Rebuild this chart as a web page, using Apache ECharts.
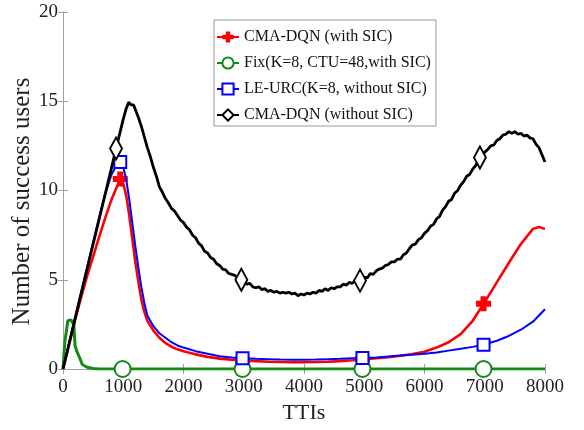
<!DOCTYPE html>
<html>
<head>
<meta charset="utf-8">
<script src="https://cdn.jsdelivr.net/npm/echarts@6/dist/echarts.min.js"></script>
<style>
html,body{margin:0;padding:0;background:#fff;}
#chart{width:584px;height:430px;}
</style>
</head>
<body>
<div id="chart"></div>
<script>
// ---- data (TTI, number of success users) ----
var seriesNames = ['CMA-DQN (with SIC)', 'Fix(K=8, CTU=48,with SIC)', 'LE-URC(K=8, without SIC)', 'CMA-DQN (without SIC)'];
var xTicks = [0, 1000, 2000, 3000, 4000, 5000, 6000, 7000, 8000];
var yTicks = [0, 5, 10, 15, 20];

var cmaSic = [[0,0],[100,1.35],[200,2.75],[300,4.0],[400,5.2],[500,6.3],[600,7.4],[700,8.45],[800,9.45],[900,10.25],[950,10.65],[1000,10.4],[1050,9.7],[1100,8.6],[1150,7.3],[1200,6.0],[1250,4.9],[1300,3.9],[1350,3.2],[1400,2.7],[1500,2.15],[1600,1.75],[1700,1.45],[1800,1.25],[1900,1.1],[2000,1.0],[2200,0.82],[2400,0.68],[2600,0.58],[2800,0.52],[2980,0.48],[3200,0.44],[3400,0.41],[3600,0.39],[3800,0.38],[4000,0.38],[4200,0.39],[4400,0.41],[4600,0.44],[4800,0.49],[4970,0.54],[5200,0.6],[5400,0.66],[5600,0.74],[5800,0.84],[6000,0.97],[6200,1.2],[6400,1.5],[6600,1.95],[6800,2.7],[6980,3.65],[7200,4.85],[7400,5.95],[7600,7.0],[7800,7.85],[7900,7.95],[8000,7.85]];

var fixSic = [[0,0],[30,1.5],[60,1.6],[80,2.7],[130,2.75],[180,2.5],[200,1.3],[240,0.9],[280,0.6],[320,0.25],[400,0.1],[500,0.03],[600,0],[990,0],[2000,0],[2980,0],[4000,0],[4970,0],[6000,0],[6980,0],[8000,0]];

var leUrc = [[0,0],[100,1.45],[200,2.9],[300,4.3],[400,5.7],[500,7.1],[600,8.5],[700,9.8],[800,10.85],[900,11.5],[950,11.6],[1000,11.3],[1050,10.6],[1100,9.5],[1150,8.2],[1200,6.9],[1250,5.7],[1300,4.6],[1350,3.7],[1400,3.0],[1500,2.4],[1600,2.0],[1700,1.75],[1800,1.5],[1900,1.32],[2000,1.2],[2200,1.0],[2400,0.85],[2600,0.72],[2800,0.65],[2980,0.6],[3200,0.57],[3400,0.55],[3600,0.53],[3800,0.52],[4000,0.52],[4200,0.53],[4400,0.55],[4600,0.57],[4800,0.6],[4970,0.62],[5200,0.65],[5400,0.7],[5600,0.75],[5800,0.8],[6000,0.85],[6200,0.93],[6400,1.03],[6600,1.13],[6800,1.24],[6980,1.36],[7200,1.58],[7400,1.85],[7600,2.2],[7800,2.65],[8000,3.35]];

var cmaNoSic = [[0,0],[100,1.4],[200,2.8],[300,4.2],[400,5.6],[500,7.0],[600,8.4],[700,9.8],[800,11.2],[880,12.35],[950,13.3],[1000,14.0],[1050,14.6],[1090,14.95],[1130,14.8],[1170,14.8],[1210,14.45],[1250,14.1],[1300,13.6],[1350,13.0],[1400,12.4],[1450,11.9],[1500,11.3],[1550,10.8],[1600,10.2],[1650,9.9],[1700,9.55],[1750,9.3],[1800,9.0],[1850,8.85],[1900,8.6],[1950,8.35],[2000,8.2],[2050,7.95],[2100,7.8],[2150,7.5],[2200,7.35],[2250,7.05],[2300,6.9],[2350,6.6],[2400,6.5],[2450,6.25],[2500,6.15],[2550,5.9],[2600,5.8],[2650,5.6],[2700,5.55],[2750,5.35],[2800,5.3],[2850,5.25],[2900,5.1],[2960,5.0],[3000,4.9],[3050,4.75],[3100,4.8],[3150,4.6],[3200,4.55],[3250,4.6],[3300,4.45],[3350,4.5],[3400,4.35],[3450,4.4],[3500,4.3],[3550,4.35],[3600,4.25],[3650,4.3],[3700,4.25],[3750,4.3],[3800,4.2],[3850,4.25],[3900,4.1],[3950,4.2],[4000,4.15],[4050,4.25],[4100,4.2],[4150,4.3],[4200,4.25],[4250,4.4],[4300,4.35],[4350,4.5],[4400,4.4],[4450,4.55],[4500,4.5],[4550,4.6],[4600,4.6],[4650,4.75],[4700,4.7],[4750,4.85],[4800,4.8],[4850,4.95],[4930,4.95],[5000,5.15],[5050,5.1],[5100,5.35],[5150,5.3],[5200,5.5],[5250,5.6],[5300,5.65],[5350,5.8],[5400,5.85],[5450,6.0],[5500,6.0],[5550,6.15],[5600,6.15],[5650,6.4],[5700,6.5],[5750,6.75],[5800,6.95],[5850,7.0],[5900,7.25],[5950,7.35],[6000,7.6],[6050,7.75],[6100,8.0],[6150,8.1],[6200,8.4],[6250,8.55],[6300,8.9],[6350,9.1],[6400,9.4],[6450,9.5],[6500,9.85],[6550,10.0],[6600,10.3],[6650,10.5],[6700,10.8],[6750,10.9],[6800,11.2],[6850,11.4],[6920,11.85],[6950,11.8],[7000,12.15],[7050,12.3],[7100,12.5],[7150,12.55],[7200,12.8],[7250,12.9],[7300,13.1],[7350,13.15],[7400,13.3],[7450,13.2],[7500,13.3],[7550,13.15],[7600,13.2],[7650,13.05],[7700,13.1],[7750,12.95],[7800,12.9],[7850,12.6],[7900,12.4],[7950,12.0],[8000,11.6]];

var markerRB = [950, 2980, 4970, 6980];
var markerFix = [990, 2980, 4970, 6980];
var markerBlack = [880, 2960, 4930, 6920];

// ---- chart ----
var FONT = '"Liberation Serif", "DejaVu Serif", serif';
function withMarkers(arr, marks) {
  return arr.map(function (p) {
    if (marks.indexOf(p[0]) >= 0) return { value: p };
    return { value: p, symbol: 'none' };
  });
}
var plusPath = 'path://M3,0H7V3H10V7H7V10H3V7H0V3H3Z';

var chart = echarts.init(document.getElementById('chart'), null, { renderer: 'canvas' });
var axisColor = '#a0a0a0';
var option = {
  animation: false,
  backgroundColor: '#fff',
  grid: { left: 63, right: 39, top: 12, bottom: 61, containLabel: false, outerBoundsMode: 'none' },
  legend: {
    left: 214, top: 20,
    orient: 'vertical',
    itemWidth: 22, itemHeight: 14, itemGap: 10,
    padding: [9, 5, 3, 2],
    borderColor: '#999', borderWidth: 1, backgroundColor: '#fff',
    textStyle: { fontFamily: FONT, fontSize: 16, color: '#111' },
    data: seriesNames
  },
  xAxis: [{
    type: 'value', min: 0, max: 8000, interval: 1000,
    name: 'TTIs', nameLocation: 'middle', nameGap: 33, nameMoveOverlap: false,
    nameTextStyle: { fontFamily: FONT, fontSize: 22, color: '#222' },
    axisLine: { show: true, lineStyle: { color: axisColor } },
    axisTick: { show: true, inside: true, length: 5, lineStyle: { color: axisColor } },
    axisLabel: { fontFamily: FONT, fontSize: 19, color: '#222', margin: 9,
      formatter: function (v) { return xTicks.indexOf(v) >= 0 ? String(v) : ''; } },
    splitLine: { show: false }
  }, {
    type: 'value', min: 0, max: 8000, interval: 1000, position: 'top',
    axisLine: { show: true, lineStyle: { color: axisColor } },
    axisTick: { show: true, inside: true, length: 5, lineStyle: { color: axisColor } },
    axisLabel: { show: false }, splitLine: { show: false }
  }],
  yAxis: [{
    type: 'value', min: 0, max: 20, interval: 5,
    name: 'Number of success users', nameLocation: 'middle', nameGap: 28, nameMoveOverlap: false,
    nameTextStyle: { fontFamily: FONT, fontSize: 25, color: '#222', padding: [0, 22, 0, 0] },
    axisLine: { show: true, lineStyle: { color: axisColor } },
    axisTick: { show: true, inside: true, length: 5, lineStyle: { color: axisColor } },
    axisLabel: { fontFamily: FONT, fontSize: 19, color: '#222', margin: 5,
      formatter: function (v) { return yTicks.indexOf(v) >= 0 ? String(v) : ''; } },
    splitLine: { show: false }
  }, {
    type: 'value', min: 0, max: 20, interval: 5, position: 'right',
    axisLine: { show: true, lineStyle: { color: axisColor } },
    axisTick: { show: true, inside: true, length: 5, lineStyle: { color: axisColor } },
    axisLabel: { show: false }, splitLine: { show: false }
  }],
  series: [{
    name: seriesNames[0], type: 'line', z: 2,
    data: withMarkers(cmaSic, markerRB),
    showSymbol: true, showAllSymbol: true,
    symbol: plusPath, symbolSize: 15,
    itemStyle: { color: '#ff0000', borderWidth: 0 },
    lineStyle: { color: '#ff0000', width: 2.6 }
  }, {
    name: seriesNames[1], type: 'line', z: 3,
    data: withMarkers(fixSic, markerFix),
    showSymbol: true, showAllSymbol: true,
    symbol: 'emptyCircle', symbolSize: 16,
    itemStyle: { color: '#138a13', borderColor: '#138a13', borderWidth: 2 },
    lineStyle: { color: '#138a13', width: 3 }
  }, {
    name: seriesNames[2], type: 'line', z: 4,
    data: withMarkers(leUrc, markerRB),
    showSymbol: true, showAllSymbol: true,
    symbol: 'emptyRect', symbolSize: 12,
    itemStyle: { color: '#0000ff', borderColor: '#0000ff', borderWidth: 1.6 },
    lineStyle: { color: '#0000ff', width: 2 }
  }, {
    name: seriesNames[3], type: 'line', z: 5,
    data: withMarkers(cmaNoSic, markerBlack),
    showSymbol: true, showAllSymbol: true,
    symbol: 'emptyDiamond', symbolSize: [12, 22],
    itemStyle: { color: '#000', borderColor: '#000', borderWidth: 1.6 },
    lineStyle: { color: '#000', width: 2.8 }
  }]
};
chart.setOption(option);
</script>
</body>
</html>
